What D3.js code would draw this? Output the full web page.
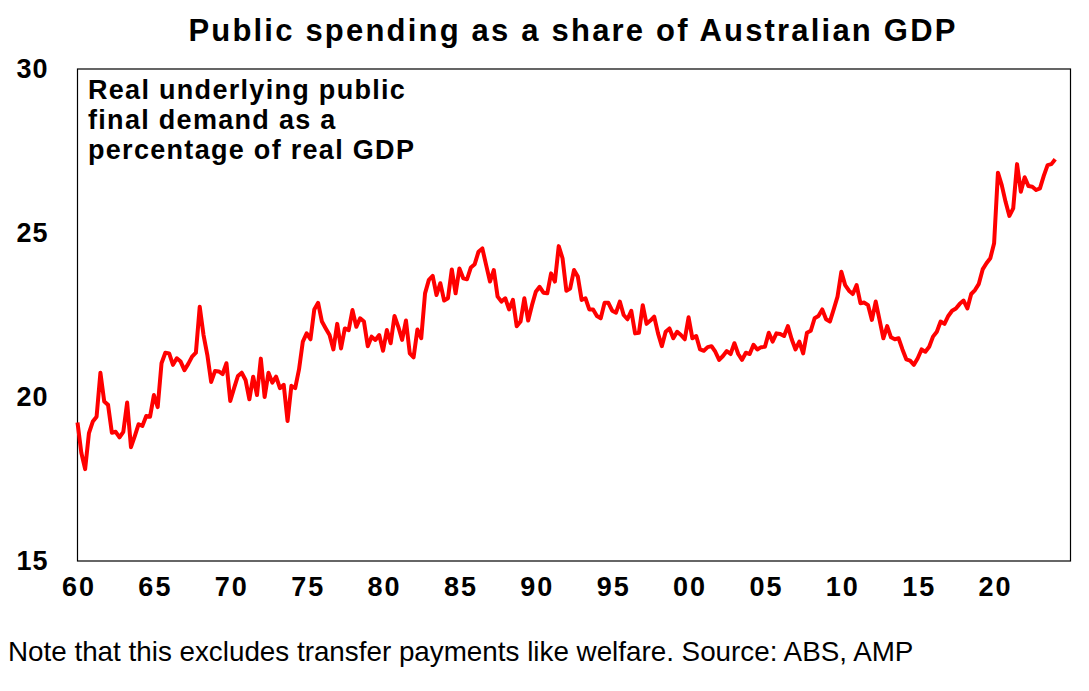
<!DOCTYPE html>
<html>
<head>
<meta charset="utf-8">
<script src="https://cdn.jsdelivr.net/npm/d3@7"></script>
<style>
  body { margin: 0; background: #fff; }
  text { font-family: "Liberation Sans", Arial, sans-serif; fill: #000; }
</style>
</head>
<body>
<svg id="chart" width="1089" height="691"></svg>
<script>
// quarterly series, starting 1960 Q1
const startYear = 1960
const values = [
  19.22, 18.30, 17.80, 18.90, 19.25, 19.40, 20.74, 19.86, 19.76, 18.91,
  18.94, 18.77, 18.94, 19.83, 18.47, 18.81, 19.17, 19.12, 19.42, 19.40,
  20.06, 19.69, 21.03, 21.35, 21.33, 20.98, 21.18, 21.08, 20.82, 21.01,
  21.23, 21.35, 22.75, 21.89, 21.28, 20.46, 20.79, 20.78, 20.70, 21.03,
  19.88, 20.27, 20.64, 20.74, 20.52, 19.93, 20.62, 20.06, 21.17, 20.00,
  20.74, 20.44, 20.62, 20.27, 20.37, 19.27, 20.34, 20.27, 20.84, 21.69,
  21.94, 21.76, 22.67, 22.87, 22.30, 22.09, 21.89, 21.45, 22.23, 21.48,
  22.09, 22.04, 22.65, 22.14, 22.40, 22.30, 21.55, 21.84, 21.74, 21.89,
  21.41, 22.04, 21.64, 22.47, 22.14, 21.74, 22.33, 21.33, 21.21, 22.06,
  21.79, 23.16, 23.57, 23.69, 23.11, 23.47, 22.94, 23.01, 23.89, 23.16,
  23.92, 23.62, 23.59, 23.95, 24.05, 24.43, 24.53, 24.02, 23.52, 23.87,
  23.06, 22.91, 23.01, 22.67, 22.96, 22.16, 22.30, 23.01, 22.33, 22.80,
  23.21, 23.36, 23.18, 23.16, 23.77, 23.52, 24.60, 24.23, 23.24, 23.31,
  23.87, 23.67, 22.96, 23.01, 22.67, 22.67, 22.47, 22.40, 22.87, 22.87,
  22.63, 22.57, 22.91, 22.50, 22.37, 22.63, 21.94, 21.96, 22.80, 22.23,
  22.33, 22.45, 21.94, 21.55, 21.99, 22.09, 21.79, 21.99, 21.89, 21.76,
  22.43, 21.79, 21.86, 21.45, 21.41, 21.52, 21.55, 21.38, 21.13, 21.25,
  21.40, 21.31, 21.64, 21.31, 21.13, 21.35, 21.31, 21.59, 21.45, 21.52,
  21.53, 21.96, 21.69, 21.94, 21.92, 21.86, 22.16, 21.76, 21.45, 21.69,
  21.33, 21.96, 22.02, 22.40, 22.47, 22.67, 22.37, 22.30, 22.67, 23.06,
  23.82, 23.41, 23.24, 23.14, 23.41, 22.86, 22.88, 22.80, 22.35, 22.91,
  22.35, 21.79, 22.16, 21.82, 21.76, 21.79, 21.45, 21.15, 21.11, 20.98,
  21.18, 21.45, 21.38, 21.53, 21.84, 21.99, 22.30, 22.23, 22.47, 22.63,
  22.70, 22.84, 22.94, 22.70, 23.14, 23.26, 23.45, 23.89, 24.08, 24.23,
  24.69, 26.84, 26.46, 25.95, 25.52, 25.75, 27.10, 26.26, 26.70, 26.43,
  26.41, 26.31, 26.36, 26.74, 27.07, 27.10, 27.25
]
const xTickYears = [1960, 1965, 1970, 1975, 1980, 1985, 1990, 1995, 2000, 2005, 2010, 2015, 2020]
const yTicks = [15, 20, 25, 30]

const titleText = 'Public spending as a share of Australian GDP'
const noteLines = ['Real underlying public', 'final demand as a', 'percentage of real GDP']
const footText = 'Note that this excludes transfer payments like welfare. Source: ABS, AMP'

const svg = d3.select('#chart')
const plotLeft = 77.5, plotRight = 1070.5, plotTop = 69, plotBottom = 561

const x = d3.scaleLinear().domain([1960, 2025]).range([plotLeft, plotRight])
const y = d3.scaleLinear().domain([15, 30]).range([plotBottom, plotTop])

svg.append('rect')
    .attr('width', 1089)
    .attr('height', 691)
    .attr('fill', '#fff')

svg.append('rect')
    .attr('x', plotLeft)
    .attr('y', plotTop)
    .attr('width', plotRight - plotLeft)
    .attr('height', plotBottom - plotTop)
    .attr('fill', 'none')
    .attr('stroke', '#000')
    .attr('stroke-width', 1.2)

// y axis labels
let yAxis = svg.append('g')
    .attr('transform', `translate(${plotLeft},0)`)
    .call(d3.axisLeft(y).tickValues(yTicks).tickSize(0).tickPadding(29))
yAxis.select('.domain').remove()
yAxis.selectAll('text')
    .style('font-family', '"Liberation Sans", Arial, sans-serif')
    .style('font-size', '27px')
    .style('font-weight', 'bold')
    .style('letter-spacing', '1px')

// x axis labels
let xAxis = svg.append('g')
    .attr('transform', `translate(0,${plotBottom})`)
    .call(d3.axisBottom(x).tickValues(xTickYears).tickSize(0).tickPadding(16)
        .tickFormat(d => String(d % 100).padStart(2, '0')))
xAxis.select('.domain').remove()
xAxis.selectAll('text')
    .attr('dx', 1)
    .style('font-family', '"Liberation Sans", Arial, sans-serif')
    .style('font-size', '27px')
    .style('font-weight', 'bold')
    .style('letter-spacing', '2px')

const line = d3.line()
    .x((d, i) => x(startYear + i / 4))
    .y(d => y(d))

svg.append('path')
    .datum(values)
    .attr('d', line)
    .attr('fill', 'none')
    .attr('stroke', '#ff0000')
    .attr('stroke-width', 4)
    .attr('stroke-linejoin', 'round')

svg.append('text')
    .attr('x', 573)
    .attr('y', 41)
    .attr('text-anchor', 'middle')
    .style('font-size', '31px')
    .style('font-weight', 'bold')
    .style('letter-spacing', '2.2px')
    .text(titleText)

svg.selectAll('.note')
    .data(noteLines)
    .enter()
    .append('text')
    .attr('class', 'note')
    .attr('x', 88)
    .attr('y', (d, i) => 99 + i * 30)
    .style('font-size', '27px')
    .style('font-weight', 'bold')
    .style('letter-spacing', '1.3px')
    .text(d => d)

svg.append('text')
    .attr('x', 8)
    .attr('y', 661)
    .style('font-size', '27.8px')
    .text(footText)
</script>
</body>
</html>
